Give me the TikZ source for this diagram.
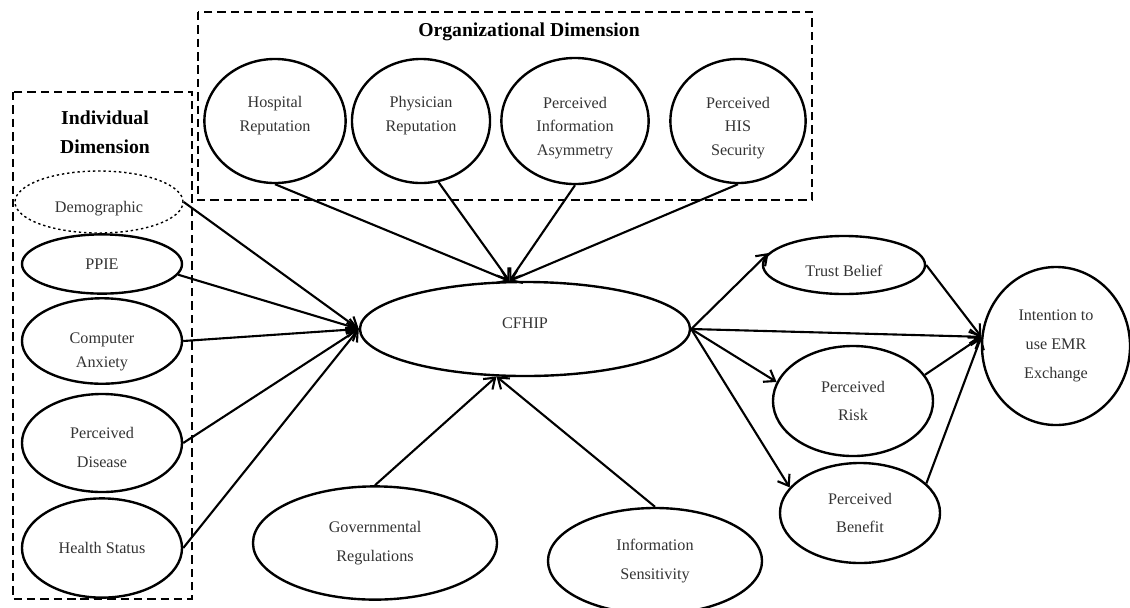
\documentclass[tikz,border=0pt]{standalone}
\usepackage{fontspec}
\setmainfont{Liberation Serif}
\usetikzlibrary{shapes.geometric,arrows.meta}
\tikzset{
  construct/.style={ellipse, draw, line width=1.7pt, inner sep=0pt, align=center,
    text=black!80, font=\fontsize{11.5}{17}\selectfont},
  widelines/.style={font=\fontsize{11.5}{20.5}\selectfont},
  dimbox/.style={draw, line width=2pt, dash pattern=on 6pt off 3.5pt},
  dimtitle/.style={align=center, font=\fontsize{14}{20.5}\selectfont\bfseries},
  link/.style={line width=1.5pt, -{Straight Barb[length=7pt,width=10pt]}}
}

\begin{document}
\begin{tikzpicture}[x=0.025cm,y=-0.025cm]
\useasboundingbox (0,0) rectangle (1130,607);

% dimension boxes
\draw[dimbox] (198,12) rectangle (812,200);
\node[dimtitle] (orgtitle) at (529,32) {Organizational Dimension};
\draw[dimbox] (13,92) rectangle (192,599);
\node[dimtitle] (indtitle) at (105,132) {Individual\\Dimension};

% organizational dimension
\node[construct, text height=49.4pt, minimum width=3.53cm, minimum height=3.1cm] (hosp) at (275,121) {Hospital\\Reputation\\\mbox{}};
\node[construct, text height=49.4pt, minimum width=3.45cm, minimum height=3.1cm] (phys) at (421,121) {Physician\\Reputation\\\mbox{}};
\node[construct, text height=52pt, minimum width=3.68cm, minimum height=3.15cm] (asym) at (575,121) {Perceived\\Information\\Asymmetry};
\node[construct, text height=52pt, minimum width=3.38cm, minimum height=3.1cm] (his) at (738,121) {Perceived\\HIS\\Security};

% individual dimension
\node[construct, dotted, line width=1pt, text height=17pt, minimum width=4.2cm, minimum height=1.55cm] (demo) at (99,202) {Demographic};
\node[construct, minimum width=4cm, minimum height=1.48cm] (ppie) at (102,264) {PPIE};
\node[construct, text height=40.5pt, minimum width=4cm, minimum height=1.95cm] (anx) at (102,341) {Computer\\Anxiety};
\node[construct, widelines, text height=35.3pt, minimum width=4cm, minimum height=2.45cm] (dis) at (102,443) {Perceived\\Disease};
\node[construct, minimum width=4cm, minimum height=2.48cm] (health) at (102,548) {Health Status};

% centre and bottom
\node[construct, text depth=8.6pt, minimum width=8.25cm, minimum height=2.35cm] (cfhip) at (525,329) {CFHIP};
\node[construct, widelines, minimum width=6.1cm, minimum height=2.83cm] (gov) at (375,543) {Governmental\\Regulations};
\node[construct, widelines, minimum width=5.35cm, minimum height=2.65cm] (sens) at (655,561) {Information\\Sensitivity};

% outcomes
\node[construct, text height=16.5pt, minimum width=4.05cm, minimum height=1.45cm] (trust) at (844,265) {Trust Belief};
\node[construct, widelines, minimum width=4cm, minimum height=2.75cm] (risk) at (853,401) {Perceived\\Risk};
\node[construct, widelines, minimum width=4cm, minimum height=2.5cm] (benefit) at (860,513) {Perceived\\Benefit};
\node[construct, widelines, minimum width=3.7cm, minimum height=3.95cm] (intent) at (1056,346) {Intention to\\use EMR\\Exchange};

% paths into CFHIP
\foreach \src/\anc in {demo/east, ppie/-8, anx/east, dis/east, health/east}
{
  \draw[link] (\src.\anc) -- (cfhip.west);
}
\foreach \src/\anc in {hosp/south, phys/-74, asym/south, his/south}
{
  \draw[link] (\src.\anc) -- (cfhip.108);
}
\draw[link] (gov.north) -- (cfhip.239);
\draw[link] (sens.north) -- (cfhip.239);

% paths out of CFHIP
\draw[link] (cfhip.east) -- (trust.171);
\draw[link] (cfhip.east) -- (intent.173);
\draw[link] (cfhip.east) -- (risk.166);
\draw[link] (cfhip.east) -- (benefit.160);
\draw[link] (trust.east) -- (intent.173);
\draw[link] (risk.20) -- (intent.173);
\draw[link] (benefit.24) -- (intent.173);

\end{tikzpicture}
\end{document}
